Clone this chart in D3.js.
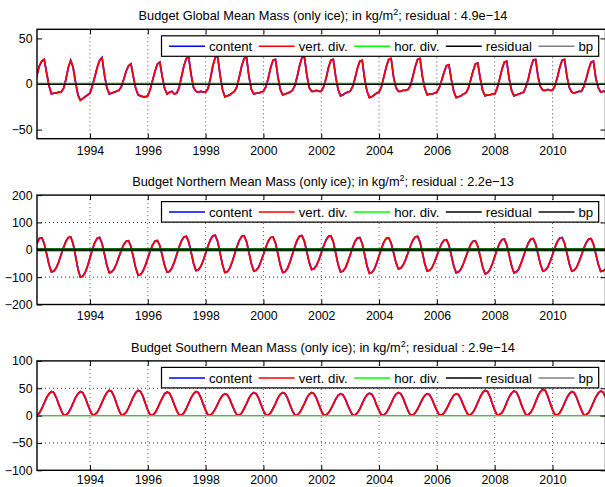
<!DOCTYPE html>
<html lang="en">
<head>
<meta charset="UTF-8">
<title>Budget Mean Mass (only ice)</title>
<script src="https://cdn.jsdelivr.net/npm/d3@7"></script>
<style>
    body{margin:0;background:#fff;}
    svg{display:block;font-family:"Liberation Sans",Arial,Helvetica,sans-serif;}
</style>
</head>
<body>
<svg id="chart"></svg>
<script>
    var years = d3.range(1992, 2012);
    var xTicks = [1994, 1996, 1998, 2000, 2002, 2004, 2006, 2008, 2010];
    var legendNames = ["content", "vert. div.", "hor. div.", "residual", "bp"];
    var legendColors = ["#0000ff", "#ff0000", "#00ff00", "#000000", "#808080"];

    // monthly values Jan..Dec, one row per year, kg/m2
    var globalContent = [
        [-5, 0, 10, 20, 25, 27, 12, -2, -11, -10, -10, -9],
        [-9, -5, 5, 18, 26, 18, 2, -12, -18, -16, -14, -12],
        [-10, -2, 8, 18, 26, 29, 10, -4, -11, -10, -9, -8],
        [-7, -3, 5, 14, 20, 22, 8, -5, -12, -13, -14, -14],
        [-13, -6, 4, 14, 22, 24, 8, -5, -11, -9, -8, -11],
        [-10, -4, 8, 20, 28, 29, 10, -4, -8, -9, -8, -9],
        [-9, -5, 6, 20, 29, 30, 10, -6, -14, -13, -12, -10],
        [-8, -3, 8, 20, 28, 29, 8, -6, -11, -10, -10, -9],
        [-8, -3, 6, 18, 26, 27, 8, -6, -12, -11, -10, -9],
        [-7, -2, 8, 20, 29, 30, 10, -4, -8, -8, -7, -8],
        [-8, -3, 6, 18, 26, 27, 8, -6, -13, -12, -10, -9],
        [-8, -3, 6, 17, 25, 26, 6, -8, -15, -14, -12, -10],
        [-9, -3, 8, 19, 27, 28, 8, -4, -8, -8, -7, -7],
        [-6, -2, 8, 19, 27, 28, 8, -5, -12, -11, -11, -10],
        [-9, -4, 4, 13, 20, 21, 5, -8, -15, -14, -13, -11],
        [-10, -5, 4, 14, 22, 23, 6, -7, -13, -12, -12, -11],
        [-11, -5, 5, 16, 24, 25, 6, -7, -13, -12, -11, -10],
        [-9, -3, 6, 18, 26, 27, 8, -3, -7, -7, -6, -7],
        [-7, -2, 7, 18, 26, 27, 8, -4, -9, -10, -9, -8],
        [-8, -3, 6, 16, 24, 25, 6, -4, -9, -8, -8, -8]
    ];
    var northContent = [
        [-19, 7, 24, 42, 44, 23, -15, -55, -81, -78, -66, -45],
        [-18, 8, 31, 45, 47, 22, -23, -70, -100, -97, -83, -59],
        [-29, 1, 27, 42, 45, 23, -16, -57, -84, -81, -71, -51],
        [-26, -2, 19, 31, 33, 12, -27, -67, -93, -90, -78, -57],
        [-31, -4, 18, 32, 34, 15, -21, -58, -82, -79, -67, -45],
        [-18, 10, 33, 47, 49, 28, -10, -50, -76, -73, -61, -39],
        [-13, 14, 37, 51, 53, 30, -12, -55, -83, -80, -68, -45],
        [-17, 11, 34, 49, 51, 29, -10, -51, -78, -75, -64, -42],
        [-17, 9, 32, 45, 47, 25, -15, -56, -83, -80, -68, -45],
        [-17, 11, 35, 50, 52, 31, -7, -46, -72, -69, -58, -37],
        [-12, 14, 36, 49, 51, 29, -12, -54, -81, -78, -67, -45],
        [-19, 7, 30, 43, 45, 23, -17, -59, -86, -83, -71, -49],
        [-22, 5, 28, 42, 44, 25, -10, -46, -70, -67, -56, -36],
        [-12, 13, 34, 47, 49, 28, -11, -52, -78, -75, -65, -45],
        [-22, 2, 23, 35, 37, 17, -21, -59, -84, -81, -71, -51],
        [-27, -2, 19, 31, 33, 13, -25, -63, -88, -85, -73, -52],
        [-26, 1, 23, 37, 39, 18, -19, -58, -84, -81, -70, -48],
        [-23, 3, 26, 39, 41, 21, -16, -53, -78, -75, -64, -43],
        [-18, 8, 30, 43, 45, 24, -13, -52, -78, -75, -64, -44],
        [-20, 5, 26, 39, 41, 21, -16, -53, -79, -77, -72, -55]
    ];
    var southContent = [
        [10, 2, 0, 5, 13, 23, 33, 40, 44, 42, 33, 21],
        [10, 1, 1, 5, 13, 23, 33, 40, 44, 42, 33, 21],
        [10, 1, 2, 6, 14, 24, 34, 42, 46, 44, 35, 22],
        [10, 1, 2, 6, 14, 24, 34, 42, 46, 44, 35, 22],
        [10, 1, 1, 5, 13, 23, 32, 40, 43, 41, 32, 20],
        [9, 1, 1, 5, 13, 23, 33, 40, 44, 42, 33, 21],
        [10, 1, 1, 5, 12, 21, 30, 37, 40, 38, 30, 19],
        [9, 1, 1, 5, 13, 22, 32, 39, 42, 40, 32, 20],
        [9, 1, 1, 5, 13, 22, 32, 39, 42, 40, 32, 20],
        [9, 1, 1, 5, 13, 22, 32, 39, 42, 40, 32, 20],
        [9, 1, 1, 5, 12, 21, 30, 37, 40, 38, 30, 19],
        [9, 1, 1, 5, 12, 22, 31, 38, 41, 39, 31, 19],
        [9, 1, 1, 5, 13, 22, 32, 39, 42, 40, 32, 20],
        [9, 1, 1, 5, 12, 21, 30, 37, 40, 38, 30, 19],
        [9, 1, 1, 5, 12, 21, 30, 37, 40, 38, 30, 19],
        [9, 1, 2, 6, 14, 24, 34, 42, 46, 44, 35, 22],
        [10, 1, 2, 5, 13, 24, 34, 41, 45, 43, 34, 21],
        [10, 1, 2, 6, 14, 25, 36, 44, 48, 46, 36, 23],
        [11, 2, 1, 5, 13, 23, 33, 40, 44, 42, 33, 21],
        [10, 1, 2, 5, 14, 24, 34, 41, 45, 43, 34, 21]
    ];

    var panels = [
        {region: "Global", rows: globalContent, yDomain: [-60, 60], yTicks: [-50, 0, 50], residual: "4.9e\u221214",
            zero: [["hor", 1, -0.8], ["bp", 1, -0.9], ["res", 1.5, 0.3]]},
        {region: "Northern", rows: northContent, yDomain: [-200, 200], yTicks: [-200, -100, 0, 100, 200], residual: "2.2e\u221213",
            zero: [["hor", 3, 0], ["res", 3, 0], ["bp", 1, 0]]},
        {region: "Southern", rows: southContent, yDomain: [-100, 100], yTicks: [-100, -50, 0, 50, 100], residual: "2.9e\u221214",
            zero: [["res", 1, 0], ["bp", 1, 0], ["hor", 1.4, 0]]}
    ];

    var width = 605, height = 487;
    var svg = d3.select("#chart").attr("width", width).attr("height", height);

    var left = 37, right = 605.5;
    var x = d3.scaleLinear().domain([1992 + 2 / 12, 2011 + 10 / 12]).range([left, right]);

    var zeroColors = {hor: "#00ff00", res: "#000000"};

    panels.forEach(function (p, i) {
        var top = 29.3 + i * 165.8, bottom = top + 109.4;
        var y = d3.scaleLinear().domain(p.yDomain).range([bottom, top]);
        var g = svg.append("g");
        zeroColors.bp = (i == 1) ? "#111" : "#808080";

        var pts = [];
        p.rows.forEach(function (row, k) {
            row.forEach(function (v, m) {
                pts.push({t: years[k] + m / 12, v: v});
            });
        });
        var zeros = pts.map(function (d) { return {t: d.t, v: 0}; });

        g.append("clipPath").attr("id", "clip" + i)
            .append("rect")
            .attr("x", left).attr("y", top)
            .attr("width", right - left).attr("height", bottom - top);

        // dotted grid
        g.selectAll(".vgrid").data(xTicks).enter().append("line")
            .attr("x1", function (d) { return x(d); })
            .attr("x2", function (d) { return x(d); })
            .attr("y1", top).attr("y2", bottom)
            .attr("stroke", "#555").attr("stroke-width", 1)
            .attr("stroke-dasharray", "1,3");
        g.selectAll(".hgrid").data(p.yTicks.slice(1, -1)).enter().append("line")
            .attr("x1", left).attr("x2", right)
            .attr("y1", function (d) { return y(d); })
            .attr("y2", function (d) { return y(d); })
            .attr("stroke", "#333").attr("stroke-width", 1)
            .attr("stroke-dasharray", "1,3");

        var line = d3.line()
            .x(function (d) { return x(d.t); })
            .y(function (d) { return y(d.v); });
        var plot = g.append("g").attr("clip-path", "url(#clip" + i + ")");

        // content underneath, vert. div. on top (they coincide)
        plot.append("path").datum(pts)
            .attr("d", line).attr("fill", "none")
            .attr("stroke", "#0000ff").attr("stroke-width", 1.8);
        plot.append("path").datum(pts)
            .attr("d", line).attr("fill", "none")
            .attr("stroke", "#ff0000").attr("stroke-width", 1.7)
            .attr("stroke-linejoin", "round");

        p.zero.forEach(function (z) {
            plot.append("path").datum(zeros)
                .attr("d", line).attr("fill", "none")
                .attr("transform", "translate(0," + z[2] + ")")
                .attr("stroke", zeroColors[z[0]])
                .attr("stroke-opacity", (i == 0 && z[0] != "res") ? 0.55 : (i == 1 && z[0] == "res" ? 0.8 : (i == 2 && z[0] == "hor" ? 0.75 : 1)))
                .attr("stroke-width", z[1]);
        });

        // axes box and inward ticks
        g.append("rect")
            .attr("x", left).attr("y", top)
            .attr("width", right - left).attr("height", bottom - top)
            .attr("fill", "none").attr("stroke", "#000").attr("stroke-width", 1.4);

        // last row sits right at the page bottom, keep its labels inside
        var pad = (i == 2) ? 4.6 : 7.2;
        var xb = g.append("g").attr("transform", "translate(0," + bottom + ")")
            .call(d3.axisBottom(x).tickValues(xTicks).tickSize(-5).tickPadding(pad).tickFormat(d3.format("d")));
        g.append("g").attr("transform", "translate(0," + top + ")")
            .call(d3.axisTop(x).tickValues(xTicks).tickSize(-5).tickFormat(""));
        var yl = g.append("g").attr("transform", "translate(" + left + ",0)")
            .call(d3.axisLeft(y).tickValues(p.yTicks).tickSize(-5).tickPadding(4.5));
        g.append("g").attr("transform", "translate(" + right + ",0)")
            .call(d3.axisRight(y).tickValues(p.yTicks).tickSize(-5).tickFormat(""));
        g.selectAll(".domain").remove();
        g.selectAll(".tick line").attr("stroke", "#000");
        [xb, yl].forEach(function (a) {
            a.attr("font-family", null).attr("font-size", null);
            a.selectAll("text").attr("font-size", "12.3px").attr("fill", "#000");
        });

        // title
        var title = svg.append("text")
            .attr("x", 323).attr("y", top - 9.3)
            .attr("text-anchor", "middle")
            .attr("font-size", "12.8px");
        title.append("tspan").text("Budget " + p.region + " Mean Mass (only ice); in kg/m");
        title.append("tspan").attr("font-size", "9px").attr("dy", -5).text("2");
        title.append("tspan").attr("dy", 5).text("; residual : " + p.residual);

        // legend, laid out horizontally like matlab
        var lg = svg.append("g");
        var box = lg.append("rect")
            .attr("x", 161.5).attr("y", top + 6.5)
            .attr("height", 20.5)
            .attr("fill", "#fff").attr("stroke", "#000").attr("stroke-width", 1.2);
        var cx = 161.5 + 7.5, cy = top + 17;
        legendNames.forEach(function (name, k) {
            lg.append("line")
                .attr("x1", cx).attr("x2", cx + 36)
                .attr("y1", cy).attr("y2", cy)
                .attr("stroke", (k == 4 && i == 1) ? "#111" : legendColors[k])
                .attr("stroke-width", 1.5);
            var t = lg.append("text")
                .attr("x", cx + 40).attr("y", cy)
                .attr("dy", "0.36em")
                .attr("font-size", "13.2px")
                .text(name);
            cx += 40 + t.node().getComputedTextLength() + 6.5;
        });
        box.attr("width", cx - 161.5 - 1);
    });
</script>
</body>
</html>
